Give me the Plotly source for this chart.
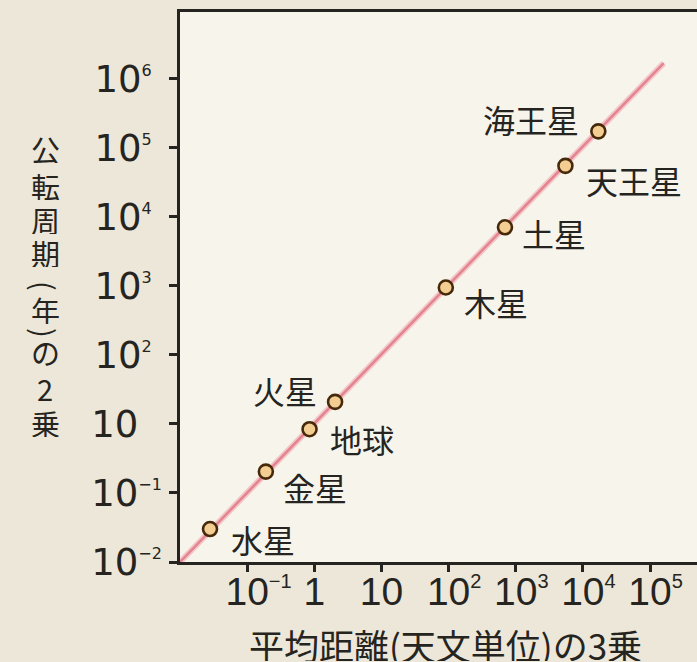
import math
import plotly.graph_objects as go

# Planets: cube of mean distance (AU^3) vs square of orbital period (yr^2)
planets = ["水星", "金星", "地球", "火星", "木星", "土星", "天王星", "海王星"]
dist_cubed = [0.028, 0.19, 0.85, 2.04, 91, 692, 5500, 17000]
period_sq = [0.030, 0.204, 0.84, 2.09, 95, 708, 5500, 17400]

# Kepler's third law reference line (T^2 = a^3)
law_x = [0.01, 1.6e5]
law_y = [0.01, 1.7e5]

# Axis ticks ("base|exponent")
x_tickvals = [0.1, 1, 10, 1e2, 1e3, 1e4, 1e5]
x_ticklabels = ["10|−1", "1", "10", "10|2", "10|3", "10|4", "10|5"]
y_tickvals = [0.01, 0.1, 1, 10, 1e2, 1e3, 1e4, 1e5]
y_ticklabels = ["10|−2", "10|−1", "10", "10|2", "10|3", "10|4", "10|5", "10|6"]

x_title = "平均距離(天文単位)の3乗"
y_title = "公転周期(年)の2乗"

FONT = "Noto Sans CJK JP"
X_NUM_FONT = "Liberation Sans Narrow, Liberation Sans, sans-serif"
Y_NUM_FONT = "DejaVu Sans, sans-serif"
INK = "#262420"
GHOST = "color:rgba(0,0,0,0)"


def sup(s, size, style=""):
    return f"<sup><span style='font-size:{size}px;{style}'>{s}</span></sup>"


def x_label(t):
    # keep "10" centred on its tick by balancing the exponent with an invisible copy
    if "|" in t:
        base, exp = t.split("|")
        return sup(exp, 20, GHOST) + base + sup(exp, 20)
    return t


def y_label(t):
    # pad every label to the same width so they line up on the left
    if "|" in t:
        base, exp = t.split("|")
        pad = "" if exp.startswith("−") else sup("0", 16, GHOST)
        return base + sup(exp, 16) + pad
    return t + sup("−0", 16, GHOST)


fig = go.Figure()

fig.add_trace(go.Scatter(
    x=law_x, y=law_y, mode="lines",
    line=dict(color="#f3c6ca", width=6), hoverinfo="skip", showlegend=False,
))
fig.add_trace(go.Scatter(
    x=law_x, y=law_y, mode="lines",
    line=dict(color="#e3848e", width=2.5), hoverinfo="skip", showlegend=False,
))
fig.add_trace(go.Scatter(
    x=dist_cubed, y=period_sq, mode="markers",
    marker=dict(size=14, color="#f3cd92", line=dict(color="#45290a", width=2.6)),
    showlegend=False,
))

# planet names: (xanchor, xshift, yshift)
label_pos = {
    "水星": ("left", 19, -10),
    "金星": ("left", 15, -15),
    "地球": ("left", 18, -10),
    "火星": ("right", -16, 12),
    "木星": ("left", 16, -14),
    "土星": ("left", 15, -6),
    "天王星": ("left", 19, -14),
    "海王星": ("right", -17, 12),
}
for name, xv, yv in zip(planets, dist_cubed, period_sq):
    anchor, dx, dy = label_pos[name]
    fig.add_annotation(
        x=math.log10(xv), y=math.log10(yv), xref="x", yref="y",
        text=name, showarrow=False,
        xanchor=anchor, yanchor="middle", xshift=dx, yshift=dy,
        font=dict(family=FONT, size=32, color=INK),
    )

# x-axis title
fig.add_annotation(
    x=0.5126, y=-0.149, xref="paper", yref="paper", text=x_title,
    showarrow=False, xanchor="center", yanchor="middle", height=34,
    font=dict(family=FONT, size=35, color=INK),
)

# y-axis title, written vertically one character at a time
y_chars = ["公", "転", "周", "期", "(", "年", ")", "の", "2", "乗"]
y_rows = [149, 186, 220, 253, 286, 310, 333, 352, 388, 423]
for ch, row in zip(y_chars, y_rows):
    upright = ch not in "()"
    fig.add_annotation(
        x=(45 - 180) / 517, y=(562 - row) / 550, xref="paper", yref="paper",
        text=ch, showarrow=False, xanchor="center", yanchor="middle",
        textangle=0 if upright else 90, height=28 if upright else None,
        font=dict(family=FONT, size=29, color=INK),
    )

fig.update_layout(
    width=697, height=662,
    margin=dict(l=180, r=0, t=12, b=100),
    paper_bgcolor="#ece7d8",
    plot_bgcolor="#f7f4ec",
    font=dict(family=FONT, color=INK),
    showlegend=False,
)
fig.update_xaxes(
    type="log", range=[-2, 5.7], automargin=False, tickangle=0,
    tickmode="array", tickvals=x_tickvals,
    ticktext=[x_label(t) for t in x_ticklabels],
    tickfont=dict(family=X_NUM_FONT, size=39, color=INK),
    ticklabelstandoff=-14,
    ticks="outside", ticklen=7, tickwidth=2.5, tickcolor=INK,
    showline=True, linecolor=INK, linewidth=2.5, mirror=True,
    showgrid=False, zeroline=False,
)
fig.update_yaxes(
    type="log", range=[-2, 5.97], automargin=False,
    tickmode="array", tickvals=y_tickvals,
    ticktext=[y_label(t) for t in y_ticklabels],
    tickfont=dict(family=Y_NUM_FONT, size=37, color=INK),
    ticks="outside", ticklen=8, tickwidth=2.5, tickcolor=INK,
    showline=True, linecolor=INK, linewidth=2.5, mirror=False,
    showgrid=False, zeroline=False,
)

fig.write_html("out.html")
